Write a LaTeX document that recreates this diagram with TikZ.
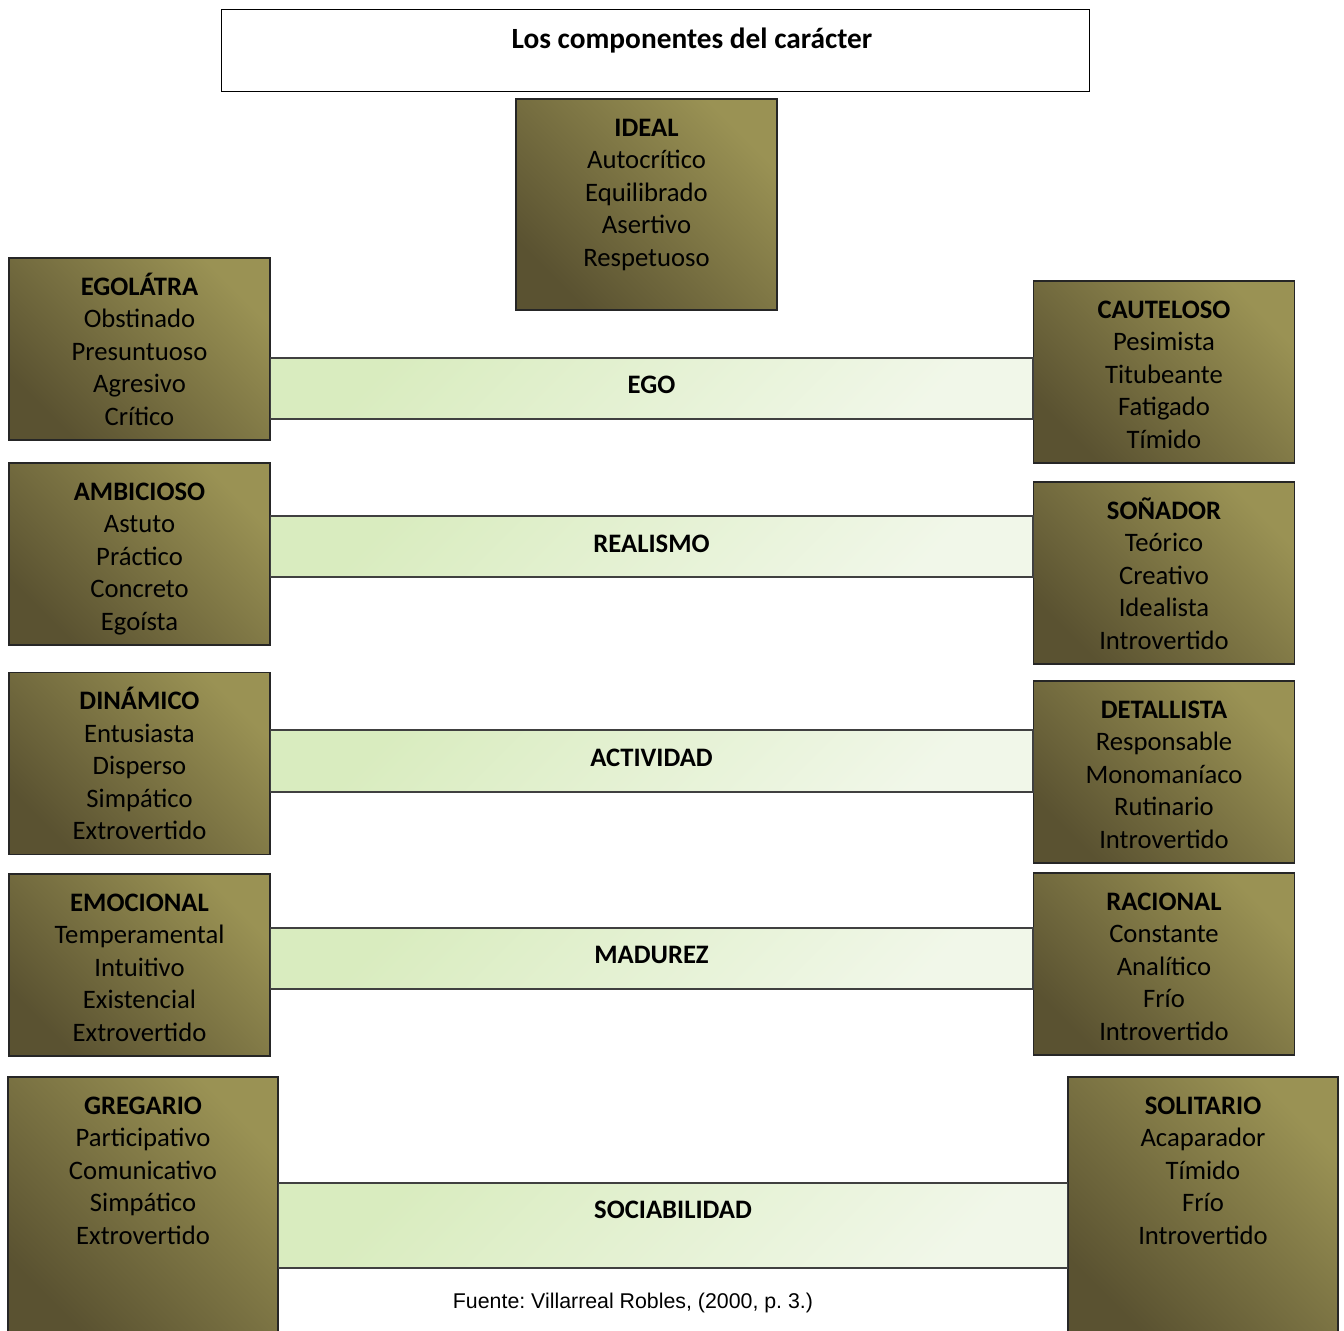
\documentclass[tikz,border=0pt]{standalone}
\usepackage{fontspec}
\setmainfont{Carlito}
\newfontfamily\fuentefont{Liberation Sans}
\definecolor{boxlight}{HTML}{9A9254}
\definecolor{boxdark}{HTML}{5A5231}
\definecolor{barleft}{HTML}{D9ECBF}
\definecolor{barright}{HTML}{F1F7E9}
\tikzset{
  rasgo/.style={draw=black!85, line width=1.1pt, top color=boxlight, bottom color=boxdark, shading angle=-45, minimum width=195.75pt, minimum height=136.5pt, inner sep=0pt},
  rasgotext/.style={anchor=base, inner sep=0pt, align=center, font=\fontsize{20}{24.4}\selectfont},
  eje/.style={draw=black!75, line width=1.1pt, top color=barleft, bottom color=barright, shading angle=45},
  ejetext/.style={anchor=base, inner sep=0pt, font=\fontsize{20}{24.4}\selectfont\bfseries},
}
\begin{document}
\begin{tikzpicture}[x=0.75pt,y=0.75pt,yscale=-1,xscale=1]
\useasboundingbox (0,0) rectangle (1344,1330);

%Shape: Title box
\node[draw=black, line width=0.75pt, fill=white, minimum width=651pt, minimum height=61.5pt, inner sep=0pt] (titulo) at (655,51) {};
% Text Node
\node[ejetext, font=\fontsize{22}{26}\selectfont\bfseries] (titulo-t) at (692,48.5) {Los componentes del carácter};

%Shape: Boxes
\node[rasgo, minimum height=158.25pt] (ideal) at (646.5,204.5) {};
\node[rasgo] (egolatra) at (139.5,349) {};
\node[rasgo] (cauteloso) at (1164,372) {};
\node[rasgo] (ambicioso) at (139.5,554) {};
\node[rasgo] (sonador) at (1164,573) {};
\node[rasgo] (dinamico) at (139.5,763.5) {};
\node[rasgo] (detallista) at (1164,772) {};
\node[rasgo] (emocional) at (139.5,965) {};
\node[rasgo] (racional) at (1164,964) {};
\node[rasgo, minimum width=202.5pt, minimum height=195pt] (gregario) at (143,1207) {};
\node[rasgo, minimum width=202.5pt, minimum height=195pt] (solitario) at (1203,1207) {};

%Shape: Bars between boxes
\draw[eje] (egolatra.east |- 0,358) rectangle (cauteloso.west |- 0,419);
\draw[eje] (ambicioso.east |- 0,516) rectangle (sonador.west |- 0,577);
\draw[eje] (dinamico.east |- 0,730) rectangle (detallista.west |- 0,792);
\draw[eje] (emocional.east |- 0,928) rectangle (racional.west |- 0,989);
\draw[eje] (gregario.east |- 0,1183) rectangle (solitario.west |- 0,1268);

% Text Node
\node[ejetext] (ego) at (651.5,393.5) {EGO};
\node[ejetext] (realismo) at (651.5,552.5) {REALISMO};
\node[ejetext] (actividad) at (651.5,766.5) {ACTIVIDAD};
\node[ejetext] (madurez) at (651.5,963.5) {MADUREZ};
\node[ejetext] (sociabilidad) at (673,1218.5) {SOCIABILIDAD};

% Text Node (base = last line; yshift is flipped by yscale=-1)
\node[rasgotext] (ideal-t) at ([yshift=126pt]ideal.north) {\textbf{IDEAL}\\Autocrítico\\Equilibrado\\Asertivo\\Respetuoso};
\node[rasgotext] (egolatra-t) at ([yshift=126pt]egolatra.north) {\textbf{EGOLÁTRA}\\Obstinado\\Presuntuoso\\Agresivo\\Crítico};
\node[rasgotext] (cauteloso-t) at ([yshift=126pt]cauteloso.north) {\textbf{CAUTELOSO}\\Pesimista\\Titubeante\\Fatigado\\Tímido};
\node[rasgotext] (ambicioso-t) at ([yshift=126pt]ambicioso.north) {\textbf{AMBICIOSO}\\Astuto\\Práctico\\Concreto\\Egoísta};
\node[rasgotext] (sonador-t) at ([yshift=126pt]sonador.north) {\textbf{SOÑADOR}\\Teórico\\Creativo\\Idealista\\Introvertido};
\node[rasgotext] (dinamico-t) at ([yshift=126pt]dinamico.north) {\textbf{DINÁMICO}\\Entusiasta\\Disperso\\Simpático\\Extrovertido};
\node[rasgotext] (detallista-t) at ([yshift=126pt]detallista.north) {\textbf{DETALLISTA}\\Responsable\\Monomaníaco\\Rutinario\\Introvertido};
\node[rasgotext] (emocional-t) at ([yshift=126pt]emocional.north) {\textbf{EMOCIONAL}\\Temperamental\\Intuitivo\\Existencial\\Extrovertido};
\node[rasgotext] (racional-t) at ([yshift=126pt]racional.north) {\textbf{RACIONAL}\\Constante\\Analítico\\Frío\\Introvertido};
\node[rasgotext] (gregario-t) at ([yshift=126pt]gregario.north) {\textbf{GREGARIO}\\Participativo\\Comunicativo\\Simpático\\Extrovertido};
\node[rasgotext] (solitario-t) at ([yshift=126pt]solitario.north) {\textbf{SOLITARIO}\\Acaparador\\Tímido\\Frío\\Introvertido};

% Text Node
\node[anchor=base, inner sep=0pt, font=\fuentefont\fontsize{16}{19}\selectfont\frenchspacing] (fuente) at (633,1308.5) {Fuente: Villarreal Robles, (2000, p. 3.)};

\end{tikzpicture}
\end{document}
